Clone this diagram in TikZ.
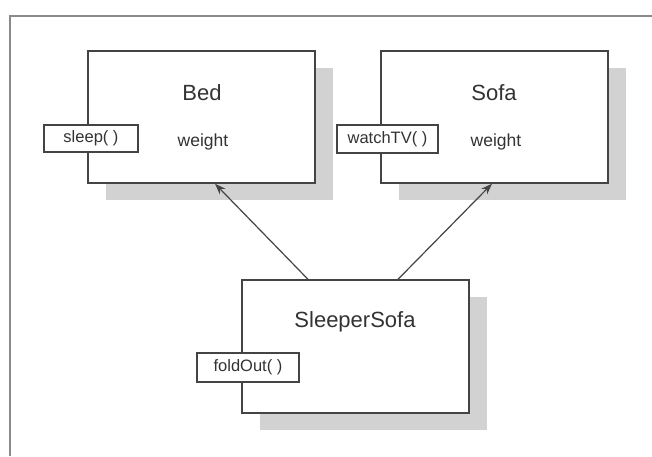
\documentclass[tikz,border=0pt]{standalone}
\usepackage{fontspec}
\setmainfont{Liberation Sans}
\usetikzlibrary{shadows,arrows.meta}
\definecolor{ink}{HTML}{333333}
\definecolor{edge}{HTML}{444444}
\definecolor{shade}{HTML}{D2D2D2}
\definecolor{frame}{HTML}{8A8A8A}
\begin{document}
\begin{tikzpicture}[x=1pt,y=-1pt,
  classbox/.style={draw=edge,line width=1.4pt,fill=white,minimum width=227pt,minimum height=132pt,inner sep=0pt,
    drop shadow={shadow xshift=18pt,shadow yshift=-17pt,fill=shade,opacity=1}},
  methodbox/.style={draw=edge,line width=1.3pt,fill=white,minimum height=28pt,inner sep=0pt,text=ink,font=\fontsize{16.5}{18}\selectfont},
  title/.style={text=ink,font=\fontsize{22}{24}\selectfont,inner sep=0pt},
  attr/.style={text=ink,font=\fontsize{17.5}{19}\selectfont,inner sep=0pt},
  inherit/.style={draw=edge,line width=1.2pt,-{Stealth[length=11pt,width=8pt]}}]
\useasboundingbox (0,0) rectangle (652,456);
\fill[white] (0,0) rectangle (652,456);
\draw[frame,line width=2pt] (10,456) -- (10,16) -- (652,16);
% class boxes
\node[classbox] (bed) at (201.5,117) {};
\node[classbox] (sofa) at (494.5,117) {};
\node[classbox,minimum height=133pt] (sleeper) at (355.5,346.5) {};
% titles and attributes
\node[title] (bedname) at (202,93) {Bed};
\node[attr] (bedw) at (203,142) {weight};
\node[title] (sofaname) at (494,93) {Sofa};
\node[attr] (sofaw) at (496,142) {weight};
\node[title] (sleepername) at (355,322) {SleeperSofa};
% methods
\node[methodbox,minimum width=94pt,minimum height=27pt] (sleep) at (91,138.5) {sleep( )};
\node[methodbox,minimum width=101pt] (watch) at (387.5,139) {watchTV( )};
\node[methodbox,minimum width=102pt,minimum height=29pt] (fold) at (248,367.5) {foldOut( )};
% inheritance arrows
\draw[inherit] ([xshift=-47.5pt]sleeper.north) -- ([xshift=13.5pt]bed.south);
\draw[inherit] ([xshift=42.5pt]sleeper.north) -- ([xshift=-2.5pt]sofa.south);
\end{tikzpicture}
\end{document}
